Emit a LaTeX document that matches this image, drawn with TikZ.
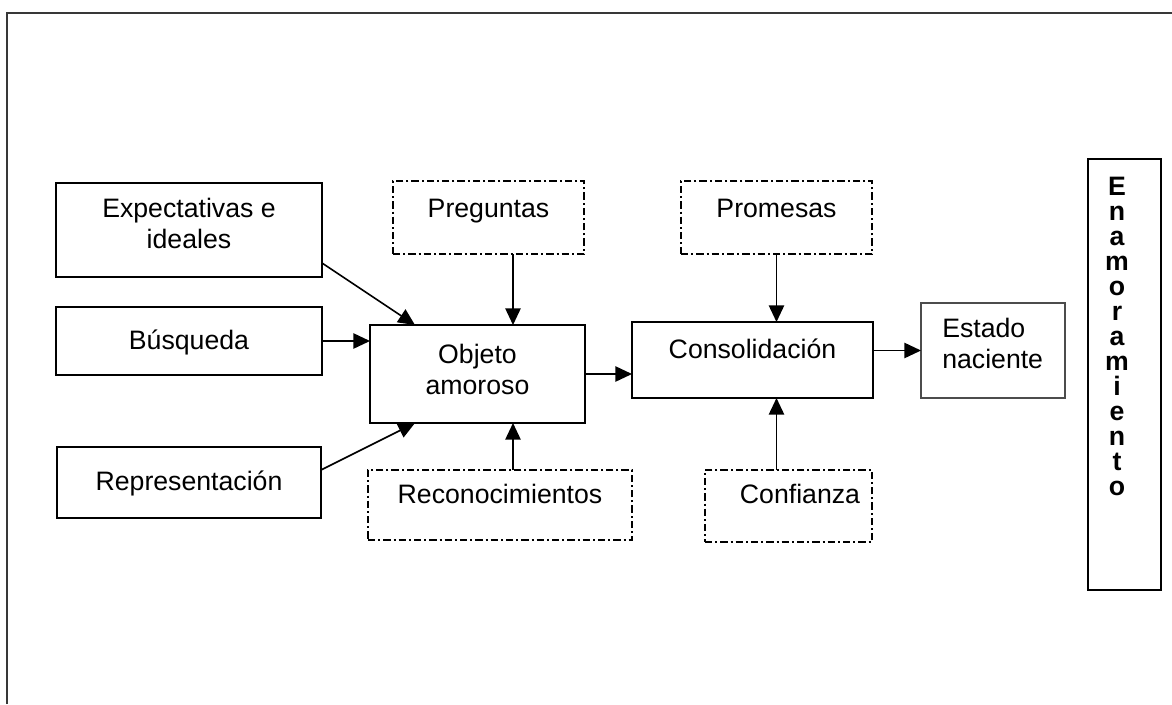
\documentclass[tikz,border=0pt]{standalone}
\usepackage{fontspec}
\setmainfont{Liberation Sans}
\usetikzlibrary{arrows.meta,calc}
\newcommand\pxu{0.75pt}
\begin{document}
\begin{tikzpicture}[x=0.75pt,y=-0.75pt,
  solidbox/.style={draw=black,line width=1.4pt,inner sep=0pt,outer sep=0pt},
  dashbox/.style={draw=black,line width=1.2pt,inner sep=0pt,outer sep=0pt,
    dash pattern=on 5.5pt off 2.25pt on 1.5pt off 2.25pt},
  lbl/.style={font=\fontsize{20}{23.25}\selectfont,inner sep=0pt,align=center},
  conn/.style={line width=1.2pt,-{Triangle[length=12.5pt,width=11.5pt]}}]
\useasboundingbox (0,0) rectangle (1172,704);

% page frame
\draw[line width=1.6pt,black!78] (7,704) -- (7,13) -- (1172,13);

% input boxes
\node[solidbox,minimum width=266*\pxu,minimum height=94*\pxu] (exp) at (189,230) {};
\node[solidbox,minimum width=266*\pxu,minimum height=68*\pxu] (bus) at (189,341) {};
\node[solidbox,minimum width=264*\pxu,minimum height=71*\pxu] (rep) at (189,482.5) {};
\node[lbl,anchor=north] (expt) at (189,198) {Expectativas e\\ideales};
\node[lbl,anchor=base] (bust) at (189,349) {Búsqueda};
\node[lbl,anchor=base] (rept) at (189,490) {Representación};

% central boxes
\node[solidbox,minimum width=215*\pxu,minimum height=98*\pxu] (obj) at (477.5,374) {};
\node[lbl,anchor=north] (objt) at (477.5,344) {Objeto\\amoroso};
\node[solidbox,minimum width=241*\pxu,minimum height=76*\pxu] (cons) at (752.5,360) {};
\node[lbl,anchor=base] (const) at (752.5,358) {Consolidación};
\node[draw=black!70,line width=1.1pt,inner sep=0pt,outer sep=0pt,
  minimum width=144*\pxu,minimum height=95*\pxu] (est) at (993,350.5) {};
\node[lbl,anchor=north west,align=left] (estt) at (942,318) {Estado\\naciente};

% dash-dotted boxes
\node[dashbox,minimum width=191*\pxu,minimum height=73*\pxu] (preg) at (488.5,217.5) {};
\node[lbl,anchor=base] (pregt) at (488.5,217) {Preguntas};
\node[dashbox,minimum width=191*\pxu,minimum height=73*\pxu] (prom) at (776.5,217.5) {};
\node[lbl,anchor=base] (promt) at (776.5,217) {Promesas};
\node[dashbox,minimum width=264*\pxu,minimum height=70*\pxu] (reco) at (500,505) {};
\node[lbl,anchor=base] (recot) at (500,503) {Reconocimientos};
\node[dashbox,minimum width=167*\pxu,minimum height=72*\pxu] (conf) at (788.5,506) {};
\node[lbl,anchor=base] (conft) at (800,503) {Confianza};

% vertical title
\node[solidbox,minimum width=73*\pxu,minimum height=431*\pxu] (enam) at (1124.5,374.5) {};
\node[inner sep=0pt,align=center,anchor=north,
  font=\fontsize{20}{18.75}\selectfont\bfseries] (enamt) at (1117,177)
  {E\\n\\a\\m\\o\\r\\a\\m\\i\\e\\n\\t\\o};

% connectors
\coordinate (objtop) at ($(obj.north)+(35.5,0)$);
\coordinate (objbot) at ($(obj.south)+(35.5,0)$);
\draw[conn] ($(exp.south east)+(0,-14)$) -- ($(obj.north west)+(45,0)$);
\draw[conn] (bus.east) -- (bus.east -| obj.west);
\draw[conn] ($(rep.north east)+(0,23)$) -- ($(obj.south west)+(45,0)$);
\draw[conn] (preg.south -| objtop) -- (objtop);
\draw[conn] (reco.north -| objbot) -- (objbot);
\draw[conn] (obj.east) -- (obj.east -| cons.west);
\draw[conn] (prom.south) -- (prom.south |- cons.north);
\draw[conn] (prom.south |- conf.north) -- (prom.south |- cons.south);
\draw[conn] (cons.east |- est.west) -- (est.west);
\end{tikzpicture}
\end{document}
